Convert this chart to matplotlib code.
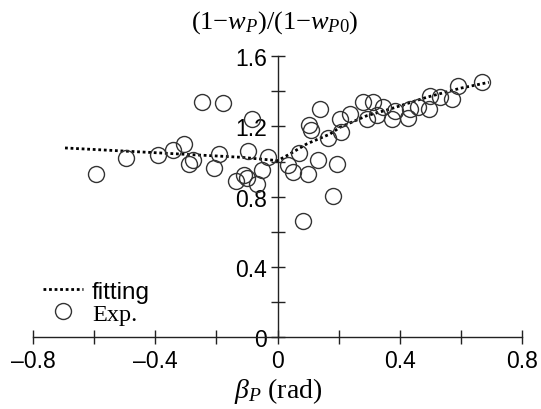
import matplotlib
matplotlib.use('Agg')
import matplotlib.pyplot as plt
from matplotlib.ticker import MultipleLocator, FuncFormatter

plt.rcParams['font.family'] = 'Liberation Sans'
plt.rcParams['mathtext.fontset'] = 'custom'
plt.rcParams['mathtext.rm'] = 'Liberation Serif'
plt.rcParams['mathtext.it'] = 'Liberation Serif:italic'

# Experimental points (beta_P in rad, normalised ratio)
exp_x = [-0.594, -0.497, -0.390, -0.341, -0.306, -0.289, -0.276, -0.248, -0.178,
         -0.208, -0.192, -0.085, -0.096, -0.137, -0.109, -0.101, -0.069, -0.050,
         -0.033, 0.035, 0.049, 0.071, 0.098, 0.082, 0.103, 0.109, 0.131, 0.138,
         0.165, 0.180, 0.195, 0.204, 0.207, 0.236, 0.280, 0.291, 0.312, 0.325,
         0.345, 0.372, 0.383, 0.427, 0.432, 0.458, 0.496, 0.498, 0.530, 0.569,
         0.590, 0.667]
exp_y = [0.929, 1.020, 1.039, 1.067, 1.098, 0.986, 1.010, 1.340, 1.332,
         0.963, 1.041, 1.240, 1.058, 0.887, 0.925, 0.904, 0.872, 0.953,
         1.024, 0.980, 0.938, 1.048, 0.929, 0.664, 1.207, 1.181, 1.010, 1.298,
         1.134, 0.806, 0.986, 1.241, 1.166, 1.270, 1.336, 1.244, 1.336, 1.264,
         1.308, 1.244, 1.289, 1.250, 1.298, 1.308, 1.298, 1.374, 1.365, 1.355,
         1.431, 1.450]

# Fitted curve
fit_x = [-0.695, -0.40, -0.12, 0.0, 0.04, 0.095, 0.171, 0.204, 0.291, 0.367,
         0.487, 0.596, 0.69]
fit_y = [1.077, 1.05, 1.024, 1.005, 1.043, 1.10, 1.156, 1.195, 1.26, 1.298,
         1.365, 1.416, 1.45]

fig = plt.figure(figsize=(5.41, 4.10), dpi=100)
ax = fig.add_axes([0.0608, 0.1744, 0.905, 0.6868])

ax.plot(fit_x, fit_y, color='black', lw=2, linestyle=(0, (1, 1)), label='fitting')
ax.plot(exp_x, exp_y, linestyle='none', marker='o', ms=11.5, mfc='none',
        mec='#333333', mew=1.0, label='Exp.')

ax.set_xlim(-0.8, 0.8)
ax.set_ylim(0, 1.6)

ax.spines['left'].set_position(('data', 0))
ax.spines['top'].set_visible(False)
ax.spines['right'].set_visible(False)
for s in ('left', 'bottom'):
	ax.spines[s].set_linewidth(1.0)
	ax.spines[s].set_color('#222222')

ax.xaxis.set_major_locator(MultipleLocator(0.4))
ax.xaxis.set_minor_locator(MultipleLocator(0.2))
ax.yaxis.set_major_locator(MultipleLocator(0.4))
ax.yaxis.set_minor_locator(MultipleLocator(0.2))

fmt = FuncFormatter(lambda v, p: '0' if abs(v) < 1e-9 else ('%.1f' % v).replace('-', '\u2013'))
ax.xaxis.set_major_formatter(fmt)
ax.yaxis.set_major_formatter(fmt)

ax.tick_params(which='both', direction='inout', length=9.4, width=1.0, color='#222222')
ax.tick_params(axis='x', which='major', labelsize=16.5, pad=3.5)
ax.tick_params(axis='y', which='major', labelsize=16.5, pad=3)

fig.text(275 / 541, 1 - 23 / 410, r'(1$-$$w_P$)/(1$-$$w_{P0}$)',
         ha='center', va='center', fontsize=19, family='Liberation Serif')
fig.text(278 / 541, 1 - 391 / 410, r'$\beta_P$ (rad)',
         ha='center', va='center', fontsize=20, family='Liberation Serif')

leg = ax.legend(loc='lower left', bbox_to_anchor=(0.02, 0.045), frameon=False,
                fontsize=17.5, handlelength=1.65, handletextpad=0.37,
                labelspacing=0.0, borderpad=0, borderaxespad=0)
leg.get_texts()[1].set_fontfamily('Liberation Serif')

fig.savefig('out.png', dpi=100)
